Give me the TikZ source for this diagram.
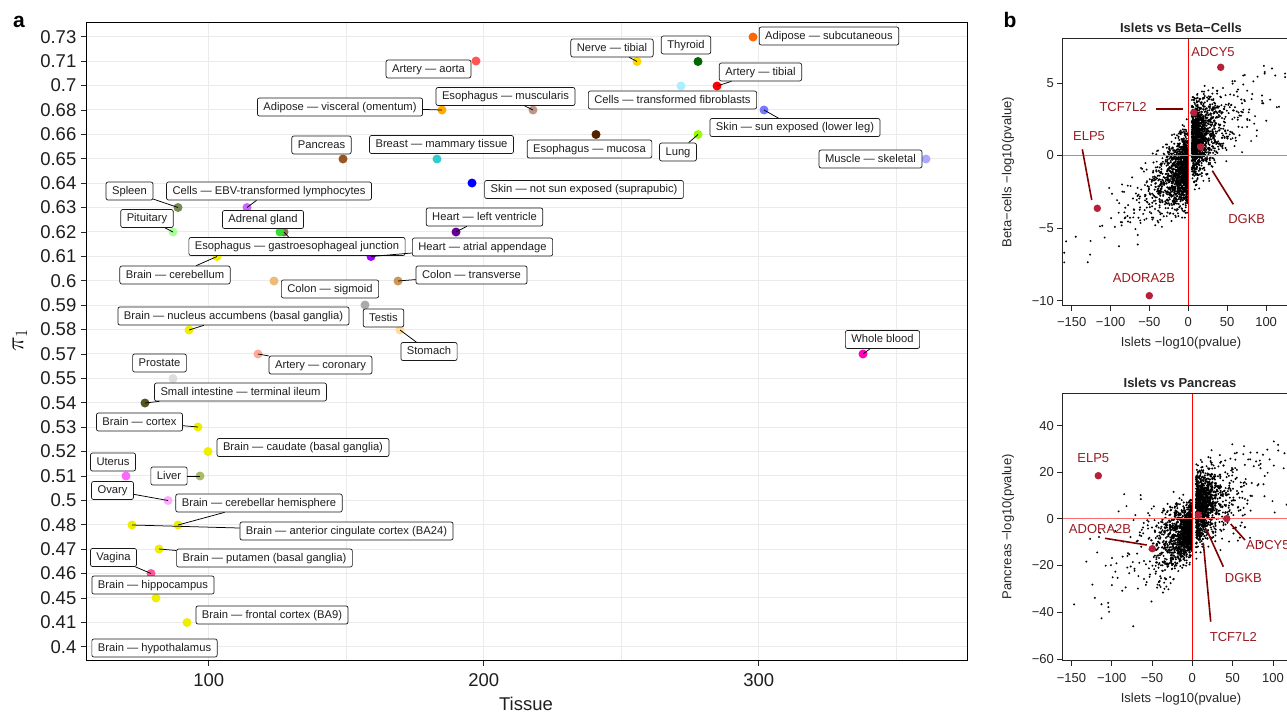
\documentclass[tikz,border=0pt]{standalone}
\usepackage{fontspec}
\setmainfont{Liberation Sans}
\definecolor{cAdSub}{HTML}{FF6600}
\definecolor{cAdVis}{HTML}{FFAA00}
\definecolor{cAdr}{HTML}{33DD33}
\definecolor{cArtAo}{HTML}{FF5555}
\definecolor{cArtCo}{HTML}{FFAA99}
\definecolor{cArtTi}{HTML}{FF0000}
\definecolor{cBrain}{HTML}{EEEE00}
\definecolor{cBreast}{HTML}{33CCCC}
\definecolor{cEBV}{HTML}{CC66FF}
\definecolor{cFib}{HTML}{AAEEFF}
\definecolor{cColSig}{HTML}{EEBB77}
\definecolor{cColTr}{HTML}{CC9955}
\definecolor{cEsoGej}{HTML}{8B7355}
\definecolor{cEsoMuc}{HTML}{552200}
\definecolor{cEsoMus}{HTML}{BB9988}
\definecolor{cHeartAA}{HTML}{9900FF}
\definecolor{cHeartLV}{HTML}{660099}
\definecolor{cLiver}{HTML}{AABB66}
\definecolor{cLung}{HTML}{99FF00}
\definecolor{cMuscle}{HTML}{AAAAFF}
\definecolor{cNerve}{HTML}{FFD700}
\definecolor{cOvary}{HTML}{FFAAFF}
\definecolor{cPanc}{HTML}{995522}
\definecolor{cPit}{HTML}{AAFF99}
\definecolor{cProst}{HTML}{DDDDDD}
\definecolor{cSkinNS}{HTML}{0000FF}
\definecolor{cSkinS}{HTML}{7777FF}
\definecolor{cSI}{HTML}{555522}
\definecolor{cSpleen}{HTML}{778855}
\definecolor{cStom}{HTML}{FFDD99}
\definecolor{cTestis}{HTML}{AAAAAA}
\definecolor{cThy}{HTML}{006600}
\definecolor{cUterus}{HTML}{FF66FF}
\definecolor{cVagina}{HTML}{FF5599}
\definecolor{cBlood}{HTML}{FF00BB}
\definecolor{gridc}{HTML}{EBEBEB}
\definecolor{hlpt}{HTML}{B5213A}
\definecolor{hltxt}{HTML}{9A1C22}
\definecolor{hlline}{HTML}{800000}
\definecolor{redl}{HTML}{FF6A6A}
\newcommand\lblfont{\fontsize{11.2}{13}\selectfont}
\newcommand\axfont{\fontsize{18.5}{21}\selectfont}
\newcommand\bfont{\fontsize{13}{15}\selectfont}
\tikzset{
  lbl/.style={draw=black!90, line width=0.7pt, rounded corners=2pt, fill=white,
    font=\lblfont, text=black!88, inner xsep=6pt, inner ysep=0pt,
    text height=8.4pt, text depth=2.4pt, minimum height=18pt},
  pt/.style={circle, inner sep=0pt, minimum size=9pt, fill=#1},
  seg/.style={draw=black, line width=0.75pt},
  gridln/.style={draw=gridc, line width=1pt},
  tick/.style={draw=black!85, line width=0.8pt},
  ytl/.style={anchor=east, inner sep=0pt, font=\axfont, text=black!88},
  xtl/.style={inner sep=0pt, font=\axfont, text=black!88},
  btl/.style={inner sep=0pt, font=\bfont, text=black!85},
  hlp/.style={circle, inner sep=0pt, minimum size=7.5pt, fill=hlpt},
  hlt/.style={inner sep=0pt, font=\bfont, text=hltxt},
  hll/.style={draw=hlline, line width=1.6pt},
  dot/.style={fill=black},
  redv/.style={draw=red, line width=1pt},
  redh/.style={draw=redl, line width=1.2pt},
  panel/.style={font=\fontsize{21}{24}\selectfont\bfseries, inner sep=0pt}
}
\begin{document}
\begin{tikzpicture}[x=1pt,y=-1pt]
\useasboundingbox (0,0) rectangle (1287,712);
\fill[white] (0,0) rectangle (1287,712);

% ================= panel a =================
\node[panel] (pa) at (19,22) {a};
\foreach \t [count=\i from 0] in {0.73,0.71,0.7,0.68,0.66,0.65,0.64,0.63,0.62,0.61,0.6,0.59,0.58,0.57,0.55,0.54,0.53,0.52,0.51,0.5,0.48,0.47,0.46,0.45,0.41,0.4}{
  \pgfmathsetmacro\yy{36.7+24.4*\i}
  \draw[gridln] (86,\yy) -- (967,\yy);
  \draw[tick] (81,\yy) -- (86,\yy);
  \node[ytl] at (76.5,\yy) {\t};
}
\foreach \xx in {208.7,346.2,483.7,621.2,758.7,896.2}{
  \draw[gridln] (\xx,22) -- (\xx,660);
}
\foreach \xx/\t in {208.7/100,483.7/200,758.7/300}{
  \draw[tick] (\xx,660) -- (\xx,665.5);
  \node[xtl] at (\xx,680) {\t};
}
\draw[black, line width=1pt] (86,22) rectangle (967,660);
\node[xtl] (xlab) at (526,704) {Tissue};
\node[font=\fontsize{24}{28}\selectfont, rotate=90, inner sep=0pt] (ylab) at (20,340) {$\pi_1$};

% points
\node[pt=cAdSub]   (p1)  at (753,37) {};
\node[pt=cArtAo]   (p2)  at (476,61) {};
\node[pt=cNerve]   (p3)  at (637,61.5) {};
\node[pt=cThy]     (p4)  at (698,61.5) {};
\node[pt=cArtTi]   (p5)  at (717,86) {};
\node[pt=cFib]     (p6)  at (681,86) {};
\node[pt=cEsoMus]  (p7)  at (533,110) {};
\node[pt=cAdVis]   (p8)  at (442,110) {};
\node[pt=cEsoMuc]  (p9)  at (596,134.5) {};
\node[pt=cLung]    (p10) at (698,134.5) {};
\node[pt=cSkinS]   (p11) at (764,110) {};
\node[pt=cPanc]    (p12) at (343,159) {};
\node[pt=cBreast]  (p13) at (437,159) {};
\node[pt=cMuscle]  (p14) at (926,159) {};
\node[pt=cSkinNS]  (p15) at (472,183) {};
\node[pt=cSpleen]  (p16) at (178,207.5) {};
\node[pt=cEBV]     (p17) at (247,207.5) {};
\node[pt=cPit]     (p18) at (173,232) {};
\node[pt=cEsoGej]  (p20) at (284,232) {};
\node[pt=cAdr]     (p19) at (280,232) {};
\node[pt=cHeartLV] (p21) at (456,232) {};
\node[pt=cHeartAA] (p22) at (371,256.5) {};
\node[pt=cBrain]   (p23) at (217,256.5) {};
\node[pt=cColSig]  (p24) at (274,281) {};
\node[pt=cColTr]   (p25) at (398,281) {};
\node[pt=cTestis]  (p26) at (365,305) {};
\node[pt=cStom]    (p27) at (400,330) {};
\node[pt=cBrain]   (p28) at (189,330) {};
\node[pt=cArtCo]   (p29) at (258,354) {};
\node[pt=cBlood]   (p30) at (863,354) {};
\node[pt=cProst]   (p31) at (173,378.5) {};
\node[pt=cSI]      (p32) at (145,403) {};
\node[pt=cBrain]   (p33) at (198,427) {};
\node[pt=cBrain]   (p34) at (208,451.5) {};
\node[pt=cUterus]  (p35) at (126,476) {};
\node[pt=cLiver]   (p36) at (200,476) {};
\node[pt=cOvary]   (p37) at (168,500.5) {};
\node[pt=cBrain]   (p38) at (178,525) {};
\node[pt=cBrain]   (p39) at (132,525) {};
\node[pt=cBrain]   (p40) at (159,549) {};
\node[pt=cVagina]  (p41) at (151,573.5) {};
\node[pt=cBrain]   (p42) at (156,598) {};
\node[pt=cBrain]   (p43) at (187,622.5) {};

% labels
\node[lbl] (l1)  at (829,36)     {Adipose — subcutaneous};
\node[lbl] (l2)  at (428.5,69)   {Artery — aorta};
\node[lbl] (l3)  at (612,48)     {Nerve — tibial};
\node[lbl] (l4)  at (686,45)     {Thyroid};
\node[lbl] (l5)  at (760.5,72)   {Artery — tibial};
\node[lbl] (l6)  at (672.5,100)  {Cells — transformed fibroblasts};
\node[lbl] (l7)  at (505.5,96.5) {Esophagus — muscularis};
\node[lbl] (l8)  at (340,107)    {Adipose — visceral (omentum)};
\node[lbl] (l9)  at (589.5,149)  {Esophagus — mucosa};
\node[lbl] (l10) at (678,152)    {Lung};
\node[lbl] (l11) at (795,127.5)  {Skin — sun exposed (lower leg)};
\node[lbl] (l12) at (321.5,145)  {Pancreas};
\node[lbl] (l13) at (441.5,144.5){Breast — mammary tissue};
\node[lbl] (l14) at (870.5,159)  {Muscle — skeletal};
\node[lbl] (l15) at (584,189.5)  {Skin — not sun exposed (suprapubic)};
\node[lbl] (l16) at (129.5,191)  {Spleen};
\node[lbl] (l17) at (269,191)    {Cells — EBV-transformed lymphocytes};
\node[lbl] (l18) at (147,218.5)  {Pituitary};
\node[lbl] (l19) at (263,219.5)  {Adrenal gland};
\node[lbl] (l21) at (484.5,217)  {Heart — left ventricle};

\draw[seg] (p3.center) -- (l3);
\draw[seg] (p5.center) -- (l5);
\draw[seg] (p7.center) -- (l7);
\draw[seg] (p8.center) -- (l8);
\draw[seg] (p10.center) -- (l10);
\draw[seg] (p11.center) -- (l11);
\draw[seg] (p16.center) -- (l16);
\draw[seg] (p17.center) -- (l17);
\draw[seg] (p18.center) -- (l18);
\draw[seg] (p21.center) -- (l21);

\node[lbl] (l20) at (297,246.5)  {Esophagus — gastroesophageal junction};
\node[lbl] (l22) at (482.5,247)  {Heart — atrial appendage};
\node[lbl] (l23) at (175,275)    {Brain — cerebellum};
\node[lbl] (l24) at (330,289)    {Colon — sigmoid};
\node[lbl] (l25) at (471.5,275)  {Colon — transverse};
\node[lbl] (l26) at (383.5,318)  {Testis};
\node[lbl] (l27) at (429,351.5)  {Stomach};
\node[lbl] (l28) at (233.5,316)  {Brain — nucleus accumbens (basal ganglia)};
\node[lbl] (l29) at (320.5,365)  {Artery — coronary};
\node[lbl] (l30) at (882.5,339.5){Whole blood};
\node[lbl] (l31) at (159.5,363)  {Prostate};
\node[lbl] (l32) at (240.5,392)  {Small intestine — terminal ileum};
\node[lbl] (l33) at (139.5,422)  {Brain — cortex};
\node[lbl] (l34) at (303,447.5)  {Brain — caudate (basal ganglia)};
\node[lbl] (l35) at (113,462)    {Uterus};
\node[lbl] (l36) at (169,476)    {Liver};
\node[lbl] (l37) at (112.5,490.5){Ovary};
\node[lbl] (l38) at (259,503)    {Brain — cerebellar hemisphere};
\node[lbl] (l39) at (346.5,531)  {Brain — anterior cingulate cortex (BA24)};
\node[lbl] (l40) at (264.5,558)  {Brain — putamen (basal ganglia)};
\node[lbl] (l41) at (113.5,557.5){Vagina};
\node[lbl] (l42) at (153,585)    {Brain — hippocampus};
\node[lbl] (l43) at (272,615)    {Brain — frontal cortex (BA9)};
\node[lbl] (l44) at (154.5,648)  {Brain — hypothalamus};

\draw[seg] (p20.center) -- (l20);
\draw[seg] (p22.center) -- (l22);
\draw[seg] (p23.center) -- (l23);
\draw[seg] (p25.center) -- (l25);
\draw[seg] (p27.center) -- (l27);
\draw[seg] (p28.center) -- (l28);
\draw[seg] (p29.center) -- (l29);
\draw[seg] (p30.center) -- (l30);
\draw[seg] (p32.center) -- (l32);
\draw[seg] (p33.center) -- (l33);
\draw[seg] (p36.center) -- (l36);
\draw[seg] (p37.center) -- (l37);
\draw[seg] (p38.center) -- (l38);
\draw[seg] (p39.center) -- (l39);
\draw[seg] (p40.center) -- (l40);
\draw[seg] (p41.center) -- (l41);

% ================= panel b =================
\node[panel] (pb) at (1010,20) {b};
\pgfmathsetseed{4711}

% ---- top plot ----
\node[btl, font=\bfont\bfseries] (t1) at (1181,27.5) {Islets vs Beta−Cells};
\begin{scope}
\clip (1062.7,38.3) rectangle (1300,305.3);
\begin{scope}[shift={(1188.3,155.3)}, x=0.778pt, y=14.5pt]
\foreach \i in {1,...,1300}{
  \pgfmathsetmacro\ss{rnd<0.88 ? 14 : 45}
  \pgfmathsetmacro\xx{\ss*ln(0.002+0.998*rnd)-0.5}
  \pgfmathsetmacro\yy{0.04*\xx-0.8+1.2*1.732*(rnd+rnd+rnd+rnd-2)}
  \fill[dot] (\xx,\yy) circle[radius=1.1pt];
}
\foreach \i in {1,...,1300}{
  \pgfmathsetmacro\ss{rnd<0.85 ? 12 : 40}
  \pgfmathsetmacro\xx{4.5-\ss*ln(0.002+0.998*rnd)}
  \pgfmathsetmacro\yy{0.8+0.03*\xx+1.25*1.732*(rnd+rnd+rnd+rnd-2)}
  \fill[dot] (\xx,\yy) circle[radius=1.1pt];
}
\end{scope}
\end{scope}
\draw[redh] (1062.7,155.3) -- (1300,155.3);
\draw[redv] (1188.3,38.3) -- (1188.3,305.3);
\draw[black!85, line width=0.8pt] (1062.7,38.3) rectangle (1300,305.3);
\foreach \yy/\t in {83.3/5,155.3/0,228.3/−5,300.7/−10}{
  \draw[tick] (1057,\yy) -- (1062.7,\yy);
  \node[btl, anchor=east] at (1054,\yy) {\t};
}
\foreach \xx/\t in {1071.7/−150,1110.6/−100,1149.4/−50,1188.3/0,1227.2/50,1266.1/100}{
  \draw[tick] (\xx,305.3) -- (\xx,311);
  \node[btl] at (\xx,322) {\t};
}
\node[btl] (bx1) at (1181,343) {Islets −log10(pvalue)};
\node[btl, rotate=90] (by1) at (1008,172) {Beta−cells −log10(pvalue)};

\node[hlp] (h1) at (1220.7,67.3) {};
\node[hlp] (h2) at (1193.7,112.7) {};
\node[hlp] (h3) at (1200.7,147) {};
\node[hlp] (h4) at (1097.3,208.3) {};
\node[hlp] (h5) at (1149.3,295.7) {};
\node[hlt] (ht1) at (1213,51.7) {ADCY5};
\node[hlt] (ht2) at (1123,106.7) {TCF7L2};
\node[hlt] (ht3) at (1246.7,219.3) {DGKB};
\node[hlt] (ht4) at (1089,136) {ELP5};
\node[hlt] (ht5) at (1144,277.7) {ADORA2B};
\coordinate (a2) at (1155.7,109);  \coordinate (b2) at (1183.3,109);
\coordinate (a3) at (1233.3,204.3); \coordinate (b3) at (1212.3,170.7);
\coordinate (a4) at (1082.3,149.3); \coordinate (b4) at (1091.7,200);
\draw[hll] (a2) -- (b2);
\draw[hll] (a3) -- (b3);
\draw[hll] (a4) -- (b4);

% ---- bottom plot ----
\node[btl, font=\bfont\bfseries] (t2) at (1180,382.7) {Islets vs Pancreas};
\begin{scope}
\clip (1062.7,393.3) rectangle (1300,660);
\begin{scope}[shift={(1192.3,518.7)}, x=0.806pt, y=2.333pt]
\foreach \i in {1,...,1300}{
  \pgfmathsetmacro\ss{rnd<0.85 ? 14 : 45}
  \pgfmathsetmacro\xx{\ss*ln(0.002+0.998*rnd)-0.5}
  \pgfmathsetmacro\yy{0.2*\xx-4+(5+0.1*abs(\xx))*1.732*(rnd+rnd+rnd+rnd-2)}
  \fill[dot] (\xx,\yy) circle[radius=1.1pt];
}
\foreach \i in {1,...,1300}{
  \pgfmathsetmacro\ss{rnd<0.85 ? 12 : 40}
  \pgfmathsetmacro\xx{4.5-\ss*ln(0.002+0.998*rnd)}
  \pgfmathsetmacro\yy{4+0.15*\xx+(7+0.04*\xx)*1.732*(rnd+rnd+rnd+rnd-2)}
  \fill[dot] (\xx,\yy) circle[radius=1.1pt];
}
\end{scope}
\end{scope}
\draw[redh] (1062.7,518.7) -- (1300,518.7);
\draw[redv] (1192.3,393.3) -- (1192.3,660);
\draw[black!85, line width=0.8pt] (1062.7,393.3) rectangle (1300,660);
\foreach \yy/\t in {425.7/40,472.3/20,518.7/0,565.3/−20,612/−40,659/−60}{
  \draw[tick] (1057,\yy) -- (1062.7,\yy);
  \node[btl, anchor=east] at (1054,\yy) {\t};
}
\foreach \xx/\t in {1071.4/−150,1111.7/−100,1152.0/−50,1192.3/0,1232.6/50,1272.9/100}{
  \draw[tick] (\xx,660) -- (\xx,665.7);
  \node[btl] at (\xx,678.3) {\t};
}
\node[btl] (bx2) at (1181,699.3) {Islets −log10(pvalue)};
\node[btl, rotate=90] (by2) at (1008,526.7) {Pancreas −log10(pvalue)};

\node[hlp] (k1) at (1098.3,475.7) {};
\node[hlp] (k2) at (1152.3,548.7) {};
\node[hlp] (k3) at (1198.3,515) {};
\node[hlp] (k4) at (1226.7,518.7) {};
\node[hlt] (kt1) at (1093.3,457.7) {ELP5};
\node[hlt] (kt2) at (1100,529.3) {ADORA2B};
\node[hlt, anchor=west] (kt3) at (1246,545.3) {ADCY5};
\node[hlt] (kt4) at (1243.3,578.3) {DGKB};
\node[hlt] (kt5) at (1233.3,636.7) {TCF7L2};
\coordinate (c2) at (1105,538.3);   \coordinate (d2) at (1146.7,545);
\coordinate (c3) at (1245,540);     \coordinate (d3) at (1230.7,524);
\coordinate (c4) at (1223.3,566.7); \coordinate (d4) at (1206.7,530);
\coordinate (c5) at (1210.7,621.7); \coordinate (d5) at (1203.3,542.7);
\draw[hll] (c2) -- (d2);
\draw[hll] (c3) -- (d3);
\draw[hll] (c4) -- (d4);
\draw[hll] (c5) -- (d5);
\end{tikzpicture}
\end{document}
